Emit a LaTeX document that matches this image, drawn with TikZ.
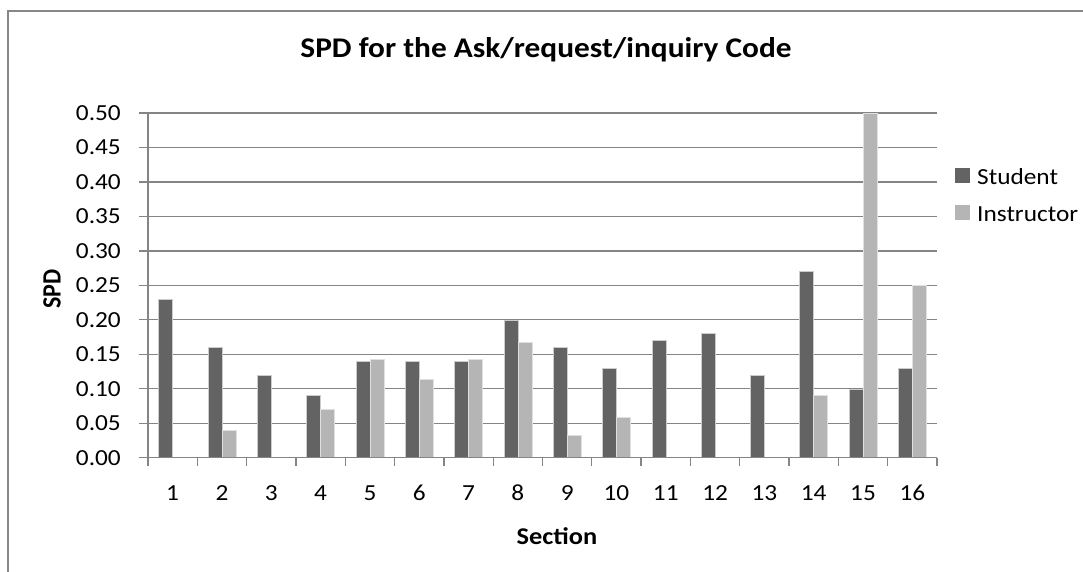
\documentclass[tikz,border=0pt]{standalone}
\usepackage{fontspec}
\setmainfont{Carlito}
\begin{document}
\begin{tikzpicture}[x=1pt,y=-1pt,
  frame/.style={draw=black!47,line width=1.4pt},
  grid/.style={draw=black!48,line width=1.3pt},
  tick/.style={draw=black!48,line width=1.3pt},
  stud/.style={fill=black!61,draw=black!20,line width=0.5pt},
  inst/.style={fill=black!29,draw=black!12,line width=0.5pt},
  lab/.style={font=\fontsize{23}{27}\selectfont,inner sep=0pt,xscale=1.1,transform shape},
  ttl/.style={font=\bfseries\fontsize{28.5}{33}\selectfont,inner sep=0pt,xscale=1.1,transform shape},
  axt/.style={font=\bfseries\fontsize{24}{28}\selectfont,inner sep=0pt,xscale=1.1,transform shape}]
\useasboundingbox (0,0) rectangle (1083,571);
\fill[white] (0,0) rectangle (1083,571);
% outer frame
\draw[frame] (8,580) -- (8,11) -- (1090,11);
% title
\node[ttl] (title) at (546,50) {SPD for the Ask/request/inquiry Code};
% gridlines and y labels
\foreach \t [count=\k from 0] in {0.00,0.05,0.10,0.15,0.20,0.25,0.30,0.35,0.40,0.45,0.50}{
  \pgfmathsetmacro{\yy}{457.7-34.47*\k}
  \draw[grid] (139,\yy) -- (937,\yy);
  \node[lab,anchor=east] (y\k) at (121,\yy) {\t};
}
% y axis
\draw[tick] (148,113) -- (148,466);
% bars
\def\studvals{0.23,0.16,0.12,0.09,0.14,0.14,0.14,0.20,0.16,0.13,0.17,0.18,0.12,0.27,0.10,0.13}
\def\instvals{0,0.04,0,0.07,0.143,0.114,0.143,0.167,0.032,0.059,0,0,0,0.091,0.5,0.25}
\foreach \s [count=\i from 0] in \studvals{
  \pgfmathsetmacro{\xa}{148+49.3125*\i+10.65}
  \pgfmathsetmacro{\xb}{\xa+14}
  \pgfmathsetmacro{\yt}{457.7-\s*689.4}
  \filldraw[stud] (\xa,457.7) rectangle (\xb,\yt);
}
\foreach \s [count=\i from 0] in \instvals{
  \pgfmathsetmacro{\xa}{148+49.3125*\i+24.65}
  \pgfmathsetmacro{\xb}{\xa+14}
  \pgfmathsetmacro{\yt}{457.7-\s*689.4}
  \ifdim \s pt>0pt \filldraw[inst] (\xa,457.7) rectangle (\xb,\yt); \fi
}
% x axis and ticks
\draw[tick] (148,457.7) -- (937,457.7);
\foreach \i in {0,...,16}{
  \pgfmathsetmacro{\xx}{148+49.3125*\i}
  \draw[tick] (\xx,457.7) -- (\xx,466);
}
\foreach \i in {1,...,16}{
  \pgfmathsetmacro{\xx}{148+49.3125*(\i-0.5)}
  \node[lab] (x\i) at (\xx,493) {\i};
}
% axis titles
\node[axt,rotate=90] (ytitle) at (52,289) {SPD};
\node[axt] (xtitle) at (557,536) {Section};
% legend
\fill[stud,draw=none] (955,168) rectangle (970,183);
\node[lab,anchor=west] (lstud) at (977,177) {Student};
\fill[inst,draw=none] (955,205) rectangle (970,220);
\node[lab,anchor=west] (linst) at (977,214) {Instructor};
\end{tikzpicture}
\end{document}
